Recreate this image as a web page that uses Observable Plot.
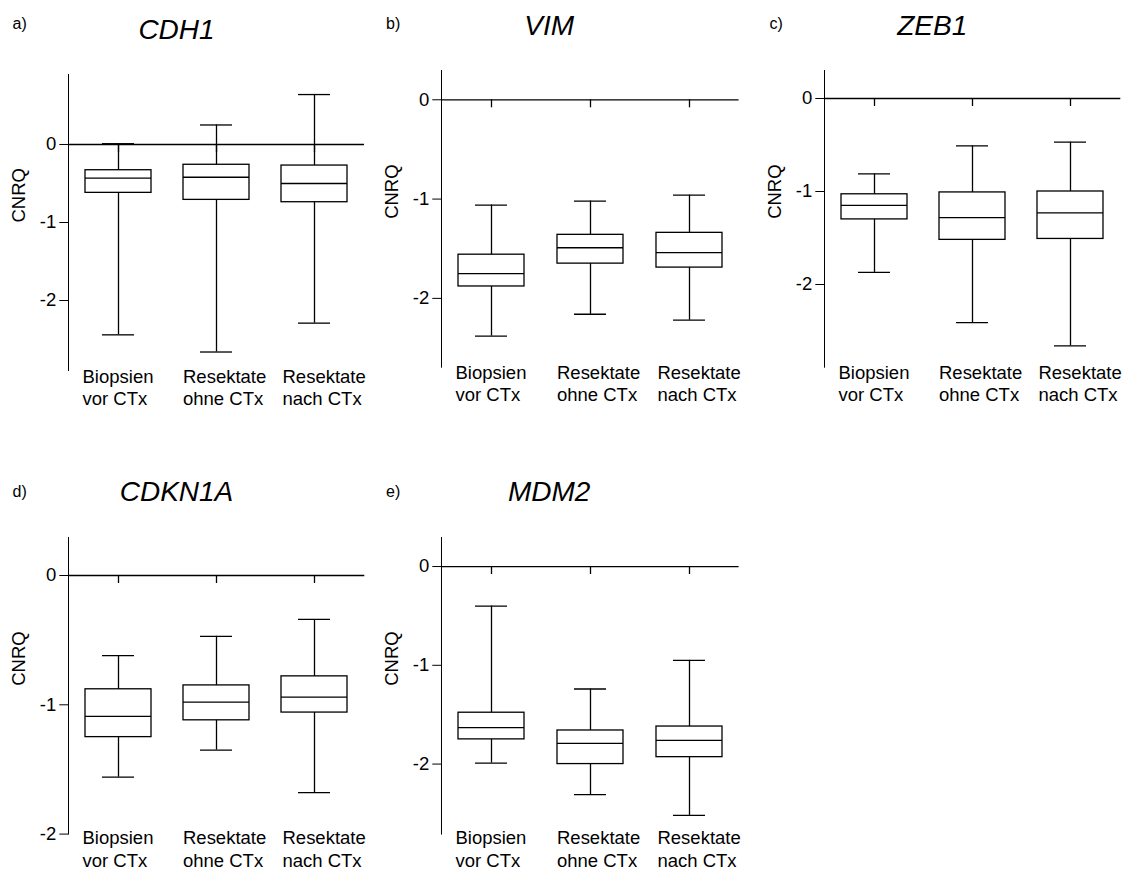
<!DOCTYPE html>
<html>
<head>
<meta charset="utf-8">
<script src="https://cdn.jsdelivr.net/npm/d3@7"></script>
<script src="https://cdn.jsdelivr.net/npm/@observablehq/plot@0.6"></script>
<style>
  html, body { margin: 0; padding: 0; background: #fff; overflow: hidden; }
  #page { position: relative; width: 1126px; height: 870px; overflow: hidden;
          font-family: "Liberation Sans", Arial, sans-serif; color: #000; }
  .lab { position: absolute; white-space: nowrap; line-height: 1; }
  .title { font-style: italic; font-size: 28px; transform: translateX(-50%); }
  .letter { font-size: 16px; }
  .panel { position: absolute; }
</style>
</head>
<body>
<div id="page"></div>
<script>
// Sample groups (x categories) and their two-line labels
const groups = ["Biopsien vor CTx", "Resektate ohne CTx", "Resektate nach CTx"];
const groupLabels = ["Biopsien\nvor CTx", "Resektate\nohne CTx", "Resektate\nnach CTx"];

const genes = ["CDH1", "VIM", "ZEB1", "CDKN1A", "MDM2"];
const letters = ["a)", "b)", "c)", "d)", "e)"];
const yTicks = [0, -1, -2];

// Box-plot summaries per group: [min, q1, median, q3, max] (CNRQ, log scale)
const cdh1 = [
  [-2.44, -0.62, -0.43, -0.33, 0.01],
  [-2.66, -0.71, -0.42, -0.26, 0.25],
  [-2.29, -0.74, -0.50, -0.27, 0.64]
];
const vim = [
  [-2.38, -1.88, -1.75, -1.56, -1.06],
  [-2.16, -1.65, -1.49, -1.36, -1.02],
  [-2.22, -1.69, -1.54, -1.34, -0.96]
];
const zeb1 = [
  [-1.87, -1.30, -1.15, -1.03, -0.81],
  [-2.41, -1.52, -1.28, -1.01, -0.51],
  [-2.66, -1.51, -1.23, -1.00, -0.47]
];
const cdkn1a = [
  [-1.56, -1.25, -1.09, -0.88, -0.62],
  [-1.35, -1.12, -0.98, -0.85, -0.47],
  [-1.68, -1.06, -0.94, -0.78, -0.34]
];
const mdm2 = [
  [-1.99, -1.75, -1.63, -1.48, -0.40],
  [-2.31, -2.00, -1.79, -1.66, -1.24],
  [-2.52, -1.93, -1.76, -1.62, -0.95]
];
const summaries = [cdh1, vim, zeb1, cdkn1a, mdm2];

// Layout of the five panels: frame edges on the page and y extent
const layout = [
  {x0: 68,    x1: 364,   y0: 74,    y1: 370,   yDomain: [-2.897, 0.897], titleBase: 39.3,  letterBase: 30,    letterX: 12.5, labelDy: -3.5},
  {x0: 440.7, x1: 738.3, y0: 70,    y1: 366.7, yDomain: [-2.693, 0.295], titleBase: 36,    letterBase: 30,    letterX: 386,  labelDy: -4},
  {x0: 823.7, x1: 1120,  y0: 70,    y1: 366.7, yDomain: [-2.889, 0.301], titleBase: 36,    letterBase: 30,    letterX: 769.5, labelDy: -4},
  {x0: 68,    x1: 364.3, y0: 536.7, y1: 833.3, yDomain: [-2, 0.294],     titleBase: 501.7, letterBase: 497.3, letterX: 12.5, labelDy: -5.5},
  {x0: 440.7, x1: 738.3, y0: 536.7, y1: 833.3, yDomain: [-2.709, 0.294], titleBase: 501.7, letterBase: 497.3, letterX: 386,  labelDy: -5.5}
];

const page = document.getElementById("page");
const FS = 18.5;
const SW = 1.3;
const labelShift = [36, 33.5, 32];

function addLabel(text, cls, left, baseline, size) {
  const d = document.createElement("div");
  d.className = "lab " + cls;
  d.textContent = text;
  d.style.left = left + "px";
  d.style.top = (baseline - 0.8465 * size) + "px";
  page.appendChild(d);
}

genes.forEach((gene, k) => {
  const L = layout[k];
  const rows = groups.map((g, i) => {
    const [min, q1, med, q3, max] = summaries[k][i];
    return {group: g, min, q1, med, q3, max};
  });

  const mL = 68, mR = 6, mT = 10, mB = 56;
  const width = (L.x1 - L.x0) + mL + mR;
  const height = (L.y1 - L.y0) + mT + mB;

  const chart = Plot.plot({
    width, height,
    marginLeft: mL, marginRight: mR, marginTop: mT, marginBottom: mB,
    style: {background: "transparent", fontFamily: "'Liberation Sans', Arial, sans-serif", fontSize: FS + "px", color: "#000", overflow: "visible", maxWidth: "none"},
    x: {domain: groups, axis: null, paddingInner: 0.33, paddingOuter: 0.165},
    y: {
      domain: L.yDomain, ticks: yTicks, tickSize: 8.7, tickPadding: 3.5,
      tickFormat: d => String(d), line: true, label: null
    },
    marks: [
      // baseline at zero with downward ticks at each group
      Plot.ruleY([0], {stroke: "#000", strokeWidth: SW}),
      Plot.ruleX(groups, {x: d => d, y1: 0, y2: 0, insetBottom: -8, stroke: "#000", strokeWidth: SW}),
      // whiskers
      Plot.ruleX(rows, {x: "group", y1: "min", y2: "max", stroke: "#000", strokeWidth: SW}),
      // interquartile box
      Plot.barY(rows, {x: "group", y1: "q1", y2: "q3", fill: "white", stroke: "#000", strokeWidth: SW}),
      // median
      Plot.tickY(rows, {x: "group", y: "med", stroke: "#000", strokeWidth: SW}),
      // whisker caps
      Plot.tickY(rows, {x: "group", y: "min", insetLeft: 17, insetRight: 17, stroke: "#000", strokeWidth: SW}),
      Plot.tickY(rows, {x: "group", y: "max", insetLeft: 17, insetRight: 17, stroke: "#000", strokeWidth: SW}),
      // y-axis label
      Plot.text(["CNRQ"], {text: d => d, frameAnchor: "left", rotate: -90, dx: -49, fontSize: FS, fill: "#000"}),
      // group labels below the plot
      ...groups.map((g, i) => Plot.text([g], {
        x: d => d, text: () => groupLabels[i], frameAnchor: "bottom",
        textAnchor: "start", lineAnchor: "top", dx: -labelShift[i], dy: L.labelDy,
        lineHeight: 1.205, fontSize: FS, fill: "#000"
      }))
    ]
  });

  const holder = document.createElement("div");
  holder.className = "panel";
  holder.style.left = (L.x0 - mL) + "px";
  holder.style.top = (L.y0 - mT) + "px";
  holder.appendChild(chart);
  page.appendChild(holder);

  addLabel(letters[k], "letter", L.letterX, L.letterBase, 16);
  addLabel(gene, "title", L.x0 + 108.5, L.titleBase, 28);
});
</script>
</body>
</html>
